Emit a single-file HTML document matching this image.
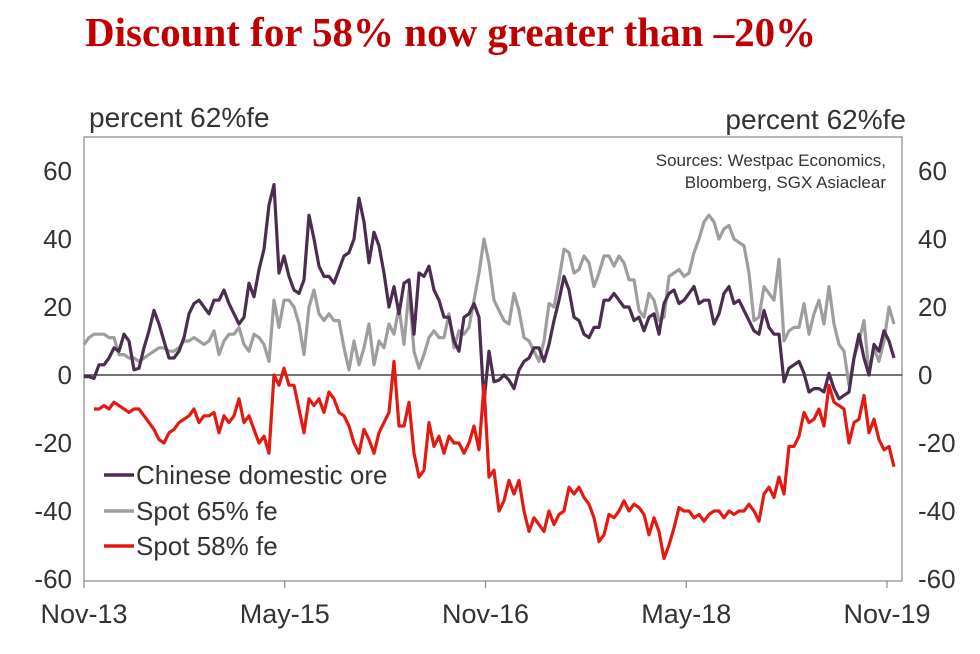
<!DOCTYPE html>
<html><head><meta charset="utf-8"><style>
body{margin:0;background:#fff;width:980px;height:649px;overflow:hidden;font-family:"Liberation Sans",sans-serif}
</style></head><body>
<svg id="chart" width="980" height="649" xmlns="http://www.w3.org/2000/svg">
<text x="85" y="46" font-family="Liberation Serif,serif" font-weight="bold" font-size="41" fill="#c00000">Discount for 58% now greater than –20%</text>
<text x="89" y="127" font-size="28" fill="#333">percent 62%fe</text>
<text x="906" y="129" font-size="28" fill="#333" text-anchor="end">percent 62%fe</text>
<text x="886" y="166" font-size="17" fill="#333" text-anchor="end">Sources: Westpac Economics,</text>
<text x="886" y="188" font-size="17" fill="#333" text-anchor="end">Bloomberg, SGX Asiaclear</text>
<rect x="84" y="137" width="818" height="444" fill="none" stroke="#888" stroke-width="1.2"/>
<g id="axes"></g>
<g id="series"></g>
<g>
<line x1="104" y1="475" x2="134" y2="475" stroke="#4b2d4f" stroke-width="3.5"/>
<text x="136" y="484" font-size="26" fill="#333">Chinese domestic ore</text>
<line x1="104" y1="511" x2="134" y2="511" stroke="#9e9e9e" stroke-width="3.5"/>
<text x="136" y="520" font-size="26" fill="#333">Spot 65% fe</text>
<line x1="104" y1="546" x2="134" y2="546" stroke="#e31a12" stroke-width="3.5"/>
<text x="136" y="555" font-size="26" fill="#333">Spot 58% fe</text>
</g>
</svg>
<script>
const yTicks=[60,40,20,0,-20,-40,-60];
const xTickLabels=["Nov-13","May-15","Nov-16","May-18","Nov-19"];
const xTickMonths=[0,18,36,54,72];
const stepMonths=0.4483;
const chinese=[-0.5,-0.5,-1,3,3,5,8,7,12,10,1.5,2,8,13,19,15,10,5,5,7,11,18,21,22,20,18,22,22,25,21,18,15,17,27,23,31,37,50,56,30,35,29,25,24,28,47,40,32,29,29,27,31,35,36,40,52,45,33,42,38,30,20,26,18,27,28,12,30,29,32,25,22,17,17,10,7,17,18,21,17,-8,7,-2,-1.5,0,-1.5,-4,1.5,4,5,8,8,4,9,16,22,29,25,17,16,12,11,14,14,22,22,24,22,20,20,16,17,13,17,18,12,21,24,25,21,22,24,26,21,22,22,15,18,24,26,21,22,19,16,13,12,19,14,12,12,-2,2,3,4,0.5,-5,-4,-4,-5,0.5,-4,-7,-6,-5,5,12,5,0,9,7,13,10,5];
const spot65=[9,11,12,12,12,11,11,6,6,5,5,4,5,6,7,8,8,7,7,8,10,10,11,10,9,10,13,6,10,12,12,14,9,7,12,11,9,4,22,14,22,22,20,15,6,20,25,18,16,18,16,16,8,1.5,10,3,8,15,3,10,8,15,12,20,9,25,7,2,6,11,13,11,11,18,8,13,12,14,22,30,40,33,22,19,16,15,24,19,11,10,7,4,10,21,20,28,37,36,30,31,35,33,26,30,35,35,32,35,33,28,28,19,17,24,22,16,17,29,30,31,29,30,36,40,45,47,45,40,43,44,40,39,38,30,16,17,26,24,22,34,10,13,14,14,21,12,18,22,15,26,15,9,7,-3,5,10,16,0.5,8,4,10,20,15];
const spot58=[null,null,-10,-10,-9,-10,-8,-9,-10,-11,-10,-10,-12,-14,-16,-19,-20,-17,-16,-14,-13,-12,-10,-14,-12,-12,-11,-17,-12,-14,-12,-7,-14,-12,-16,-20,-18,-23,0,-3,2,-3,-3,-10,-17,-7,-9,-7,-11,-5,-7,-11,-12,-15,-20,-23,-16,-19,-23,-17,-14,-11,4,-15,-15,-8,-23,-30,-28,-14,-21,-18,-23,-18,-20,-20,-23,-20,-15,-22,-3,-30,-28,-40,-37,-31,-35,-31,-40,-46,-42,-44,-46,-40,-44,-41,-40,-33,-35,-33,-36,-38,-42,-49,-47,-41,-42,-40,-37,-40,-38,-39,-41,-47,-42,-46,-54,-50,-45,-39,-40,-40,-42,-41,-43,-41,-40,-40,-42,-40,-41,-40,-40,-38,-40,-43,-35,-33,-36,-30,-35,-21,-21,-18,-11,-14,-13,-10,-15,-3,-8,-9,-10,-20,-14,-13,-6,-17,-13,-19,-22,-21,-27];
const NS="http://www.w3.org/2000/svg";
function xScale(m){return 84+m*(803/72);}
function yScale(v){return 375-v*(204/60);}
const axes=document.getElementById('axes');
function mk(tag,attrs,parent){const e=document.createElementNS(NS,tag);for(const k in attrs)e.setAttribute(k,attrs[k]);parent.appendChild(e);return e;}
yTicks.forEach(v=>{
  const l=mk('text',{x:72,y:yScale(v)+9,'font-size':26,fill:'#333','text-anchor':'end'},axes);
  l.textContent=v;
  
  
  const r=mk('text',{x:918,y:yScale(v)+9,'font-size':26,fill:'#333'},axes);
  r.textContent=v;
  
  
});
xTickMonths.forEach((m,i)=>{
  const t=mk('line',{x1:xScale(m),x2:xScale(m),y1:581,y2:588,stroke:'#888','stroke-width':1.2},axes);
  
  
  const l=mk('text',{x:xScale(m),y:623,'font-size':27,fill:'#333','text-anchor':'middle'},axes);
  l.textContent=xTickLabels[i];
  
  
});
const zl=mk('line',{x1:84,x2:902,y1:yScale(0),y2:yScale(0),stroke:'#222','stroke-width':1.2},axes);


const sg=document.getElementById('series');
function draw(arr,color,name){
  let d='';let pen=false;
  arr.forEach((v,i)=>{if(v===null){pen=false;return;}
    d+=(pen?'L':'M')+xScale(i*stepMonths).toFixed(1)+','+yScale(v).toFixed(1);pen=true;});
  const p=mk('path',{d:d,fill:'none',stroke:color,'stroke-width':3.2,'stroke-linejoin':'round'},sg);
  
  
}
draw(spot65,'#9e9e9e','spot-65-line');
draw(chinese,'#4b2d4f','chinese-domestic-line');
draw(spot58,'#e31a12','spot-58-line');
</script>
</body></html>
